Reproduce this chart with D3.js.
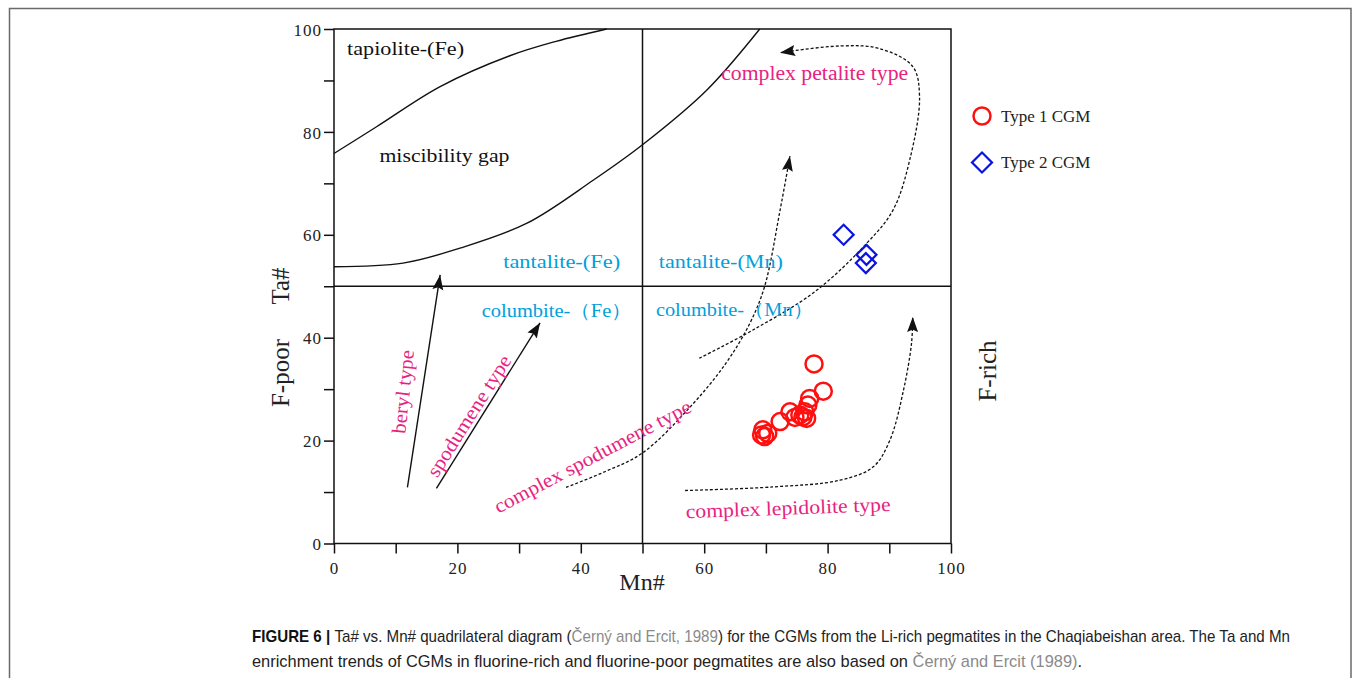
<!DOCTYPE html>
<meta charset="utf-8">
<style>
body { margin: 0; background: #fff; }
text { font-family: "Liberation Serif", "Times New Roman", serif; }
.caption text, text.caption { font-family: "Liberation Sans", Arial, sans-serif; }
</style>
<svg width="1355" height="678"></svg>
<script src="https://d3js.org/d3.v7.min.js"></script>
<script>
// tick values (Mn# and Ta# both run 0-100)
var ticks = [0, 10, 20, 30, 40, 50, 60, 70, 80, 90, 100];

// Type 1 CGM (Mn#, Ta#)
var type1Mn = [77.8, 79.3, 77.1, 76.8, 76.3, 75.5, 76.6, 74.7, 73.9, 72.3, 70.3, 69.5, 69.3, 69.8, 76.0];
var type1Ta = [34.9, 29.6, 28.2, 26.9, 25.6, 25.0, 24.3, 24.5, 25.6, 23.7, 21.4, 22.1, 21.1, 20.8, 24.6];

// Type 2 CGM
var type2Mn = [82.6, 86.3, 86.2];
var type2Ta = [60.0, 56.1, 54.5];

// field boundaries
var tapioliteLine = [[0, 75.8], [6.9, 81.0], [17.2, 88.8], [28.5, 94.8], [36, 97.6], [44.2, 100]];
var gapLine = [[0, 53.8], [11.2, 54.5], [20.4, 57.4], [31.2, 62.2], [42, 70.6], [50, 77.5], [60.4, 88.1], [69, 100]];

// trend arrows
var berylTrend = [[11.9, 10.9], [17.2, 52.2]];
var spodTrend = [[16.6, 10.7], [33.4, 42.9]];
var cxSpodTrend = [[37.6, 10.9], [44, 14], [50, 17.6], [57.7, 26.5], [63.5, 35], [67.4, 42.8], [69.8, 50], [72.3, 64.8], [73.9, 75.3]];
var cxPetTrend = [[59.2, 36], [67.9, 41.5], [78, 49], [86.3, 58.3], [90.6, 64.8], [93.3, 74.5], [94.9, 86.8], [93.8, 92.7], [88.4, 96.2], [82, 96.7], [72.3, 95.4]];
var cxLepTrend = [[56.9, 10.3], [71.2, 11], [82, 12.3], [87.4, 14.9], [90.1, 20.1], [92.3, 29.8], [93.6, 38.9], [93.8, 44]];

// field names: text, Mn#, Ta#, angle, width in px, colour group
var fieldText = ["tapiolite-(Fe)", "miscibility gap", "tantalite-(Fe)", "tantalite-(Mn)", "columbite-（Fe）", "columbite-（Mn）",
  "complex petalite type", "beryl type", "spodumene type", "complex spodumene type", "complex lepidolite type"];
var fieldMn = [11.6, 17.9, 36.9, 62.7, 36.1, 64.9, 77.9, 11.2, 21.9, 41.9, 73.6];
var fieldTa = [96.1, 75.4, 54.7, 54.8, 45.2, 45.4, 91.4, 29.5, 24.8, 16.9, 6.9];
var fieldAngle = [0, 0, 0, 0, 0, 0, 0, -84, -57.6, -27.9, -2];
var fieldLen = [117, 130, 117, 124, 150, 157, 187, 84, 140, 220, 205];
var fieldKind = ["k", "k", "c", "c", "c", "c", "m", "m", "m", "m", "m"];

var kindColor = { k: "#111", c: "#00a0dc", m: "#e8237f" };

var svg = d3.select("svg");

// outer figure frame
svg.append("rect")
    .attr("x", 9.5).attr("y", 8.5)
    .attr("width", 1341.5).attr("height", 700)
    .attr("fill", "none").attr("stroke", "#6a6a6a").attr("stroke-width", 1.5);

var x = d3.scaleLinear().domain([0, 100]).range([334, 951]);
var y = d3.scaleLinear().domain([0, 100]).range([543.5, 29]);

var fmt = function(d) { return d % 20 === 0 ? d : ""; };

var gx = svg.append("g")
    .attr("transform", "translate(0," + y(0) + ")")
    .call(d3.axisBottom(x).tickValues(ticks).tickSize(10).tickSizeOuter(0).tickFormat(fmt));
var gy = svg.append("g")
    .attr("transform", "translate(" + x(0) + ",0)")
    .call(d3.axisLeft(y).tickValues(ticks).tickSize(10).tickSizeOuter(0).tickFormat(fmt));

[gx, gy].forEach(function(g) {
  g.select(".domain").remove();
  g.selectAll("line").attr("stroke", "#111").attr("stroke-width", 1.5);
  g.selectAll("text")
      .attr("fill", "#222")
      .style("font-family", "'Liberation Serif', serif")
      .style("font-size", "17px")
      .style("letter-spacing", "1px");
});
gx.selectAll("text").attr("dy", "1.05em");
gy.selectAll("text").attr("x", -12).attr("dy", "0.36em");

// plot frame and the two dividing lines
svg.append("rect")
    .attr("x", x(0)).attr("y", y(100))
    .attr("width", x(100) - x(0)).attr("height", y(0) - y(100))
    .attr("fill", "none").attr("stroke", "#111").attr("stroke-width", 1.5);
svg.append("line")
    .attr("x1", x(50)).attr("x2", x(50)).attr("y1", y(0)).attr("y2", y(100))
    .attr("stroke", "#111").attr("stroke-width", 1.5);
svg.append("line")
    .attr("x1", x(0)).attr("x2", x(100)).attr("y1", y(50)).attr("y2", y(50))
    .attr("stroke", "#111").attr("stroke-width", 1.5);

var line = d3.line()
    .x(function(d) { return x(d[0]); })
    .y(function(d) { return y(d[1]); })
    .curve(d3.curveCatmullRom.alpha(0.5));

svg.selectAll(".bound")
    .data([tapioliteLine, gapLine])
    .enter().append("path")
      .attr("class", "bound")
      .attr("d", line)
      .attr("fill", "none").attr("stroke", "#111").attr("stroke-width", 1.4);

// arrow head
svg.append("defs").append("marker")
    .attr("id", "head")
    .attr("markerUnits", "userSpaceOnUse")
    .attr("markerWidth", 16).attr("markerHeight", 12)
    .attr("refX", 15).attr("refY", 5.5)
    .attr("orient", "auto")
  .append("path")
    .attr("d", "M0,0 L15,5.5 L0,11 L2.5,5.5 Z")
    .attr("fill", "#111");

svg.selectAll(".solidTrend")
    .data([berylTrend, spodTrend])
    .enter().append("path")
      .attr("d", line)
      .attr("fill", "none").attr("stroke", "#111").attr("stroke-width", 1.4)
      .attr("marker-end", "url(#head)");

svg.selectAll(".dashTrend")
    .data([cxSpodTrend, cxPetTrend, cxLepTrend])
    .enter().append("path")
      .attr("d", line)
      .attr("fill", "none").attr("stroke", "#111").attr("stroke-width", 1.3)
      .attr("stroke-dasharray", "3,2")
      .attr("marker-end", "url(#head)");

// field names
fieldText.forEach(function(t, i) {
  svg.append("text")
      .attr("transform", "translate(" + x(fieldMn[i]) + "," + y(fieldTa[i]) + ") rotate(" + fieldAngle[i] + ")")
      .attr("text-anchor", "middle")
      .attr("dy", "0.33em")
      .attr("fill", kindColor[fieldKind[i]])
      .style("font-size", fieldKind[i] === "m" ? "20px" : "19px")
      .attr("textLength", fieldLen[i])
      .attr("lengthAdjust", "spacingAndGlyphs")
      .text(t);
});

// data points
var t1 = type1Mn.map(function(d, i) { return [d, type1Ta[i]]; });
var t2 = type2Mn.map(function(d, i) { return [d, type2Ta[i]]; });

svg.selectAll(".t1")
    .data(t1)
    .enter().append("circle")
      .attr("cx", function(d) { return x(d[0]); })
      .attr("cy", function(d) { return y(d[1]); })
      .attr("r", 8.5)
      .attr("fill", "none").attr("stroke", "#ff1010").attr("stroke-width", 2.5);

var diamond = d3.symbol().type(d3.symbolSquare).size(200);
svg.selectAll(".t2")
    .data(t2)
    .enter().append("path")
      .attr("d", diamond)
      .attr("transform", function(d) { return "translate(" + x(d[0]) + "," + y(d[1]) + ") rotate(45)"; })
      .attr("fill", "none").attr("stroke", "#0a14e0").attr("stroke-width", 2.2);

// legend
var leg = svg.append("g").attr("transform", "translate(982,116)");
leg.append("circle").attr("r", 8.5)
    .attr("fill", "none").attr("stroke", "#ff1010").attr("stroke-width", 2.5);
leg.append("text").attr("x", 19).attr("y", 5.5).style("font-size", "17px").attr("fill", "#222").text("Type 1 CGM");
leg.append("path").attr("d", diamond).attr("transform", "translate(0,46.5) rotate(45)")
    .attr("fill", "none").attr("stroke", "#0a14e0").attr("stroke-width", 2.2);
leg.append("text").attr("x", 19).attr("y", 52).style("font-size", "17px").attr("fill", "#222").text("Type 2 CGM");

// axis titles
svg.append("text").attr("x", 642).attr("y", 590).attr("text-anchor", "middle")
    .style("font-size", "24px").attr("fill", "#222").text("Mn#");
svg.append("text").attr("transform", "translate(289,286) rotate(-90)").attr("text-anchor", "middle")
    .style("font-size", "25px").attr("fill", "#222").text("Ta#");
svg.append("text").attr("transform", "translate(289,373) rotate(-90)").attr("text-anchor", "middle")
    .style("font-size", "25px").attr("fill", "#222").text("F-poor");
svg.append("text").attr("transform", "translate(996,371) rotate(-90)").attr("text-anchor", "middle")
    .style("font-size", "25px").attr("fill", "#222").text("F-rich");

// caption
var cap = svg.append("g").attr("class", "caption");
function capLine(yy, parts, target) {
  var t = cap.append("text").attr("x", 252).attr("y", yy).style("font-size", "16px");
  parts.forEach(function(p) {
    t.append("tspan").attr("fill", p[1]).style("font-weight", p[2] ? "bold" : "normal").text(p[0]);
  });
  var w = t.node().getComputedTextLength();
  t.attr("transform", "translate(252," + yy + ") scale(" + (target / w) + ",1) translate(-252,-" + yy + ")");
}
capLine(642, [["FIGURE 6 | ", "#111", true], ["Ta# vs. Mn# quadrilateral diagram (", "#222"], ["Černý and Ercit, 1989", "#8a8a8a"],
  [") for the CGMs from the Li-rich pegmatites in the Chaqiabeishan area. The Ta and Mn", "#222"]], 1039);
capLine(667, [["enrichment trends of CGMs in fluorine-rich and fluorine-poor pegmatites are also based on ", "#222"],
  ["Černý and Ercit (1989)", "#8a8a8a"], [".", "#222"]], 831);
</script>
